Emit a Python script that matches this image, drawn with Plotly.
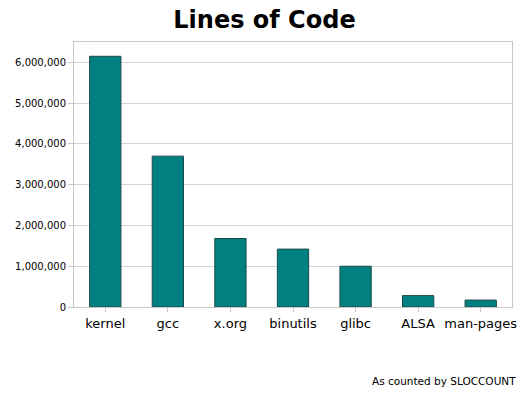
import plotly.graph_objects as go

categories = ["kernel", "gcc", "x.org", "binutils", "glibc", "ALSA", "man-pages"]
lines_of_code = [6150000, 3700000, 1680000, 1420000, 1000000, 280000, 170000]
y_ticks = [0, 1000000, 2000000, 3000000, 4000000, 5000000, 6000000]
y_tick_labels = ["0", "1,000,000", "2,000,000", "3,000,000", "4,000,000", "5,000,000", "6,000,000"]

fig = go.Figure(go.Bar(
    x=categories, y=lines_of_code,
    marker=dict(color="#008080", line=dict(color="#1c4a4a", width=1)),
    width=0.5,
))

fig.update_layout(
    width=529, height=397,
    margin=dict(l=74, r=12, t=42, b=90),
    paper_bgcolor="white", plot_bgcolor="white",
    font=dict(family="DejaVu Sans, Verdana, sans-serif", color="#000"),
    title=dict(text="<b>Lines of Code</b>", x=0.5, xanchor="center", y=0.95, yanchor="middle",
               font=dict(size=24, color="#000")),
    showlegend=False,
    annotations=[dict(text="As counted by SLOCCOUNT", xref="paper", yref="paper",
                      x=1.014, y=-0.28, xanchor="right", yanchor="middle", showarrow=False,
                      font=dict(size=10.5, color="#000"))],
)
fig.update_yaxes(range=[0, 6500000], tickvals=y_ticks, ticktext=y_tick_labels,
                 showgrid=True, gridcolor="#d3d3d3", gridwidth=1,
                 showline=True, linecolor="#c8c8c8", mirror=True,
                 ticks="outside", ticklen=5, tickcolor="#c8c8c8",
                 tickfont=dict(size=10), zeroline=False)
fig.update_xaxes(showline=True, linecolor="#c8c8c8", mirror=True,
                 ticks="outside", ticklen=4, tickcolor="#c8c8c8",
                 tickfont=dict(size=13))

fig.write_html("out.html", config={"displayModeBar": False},
               post_script="document.body.style.margin='0';")
